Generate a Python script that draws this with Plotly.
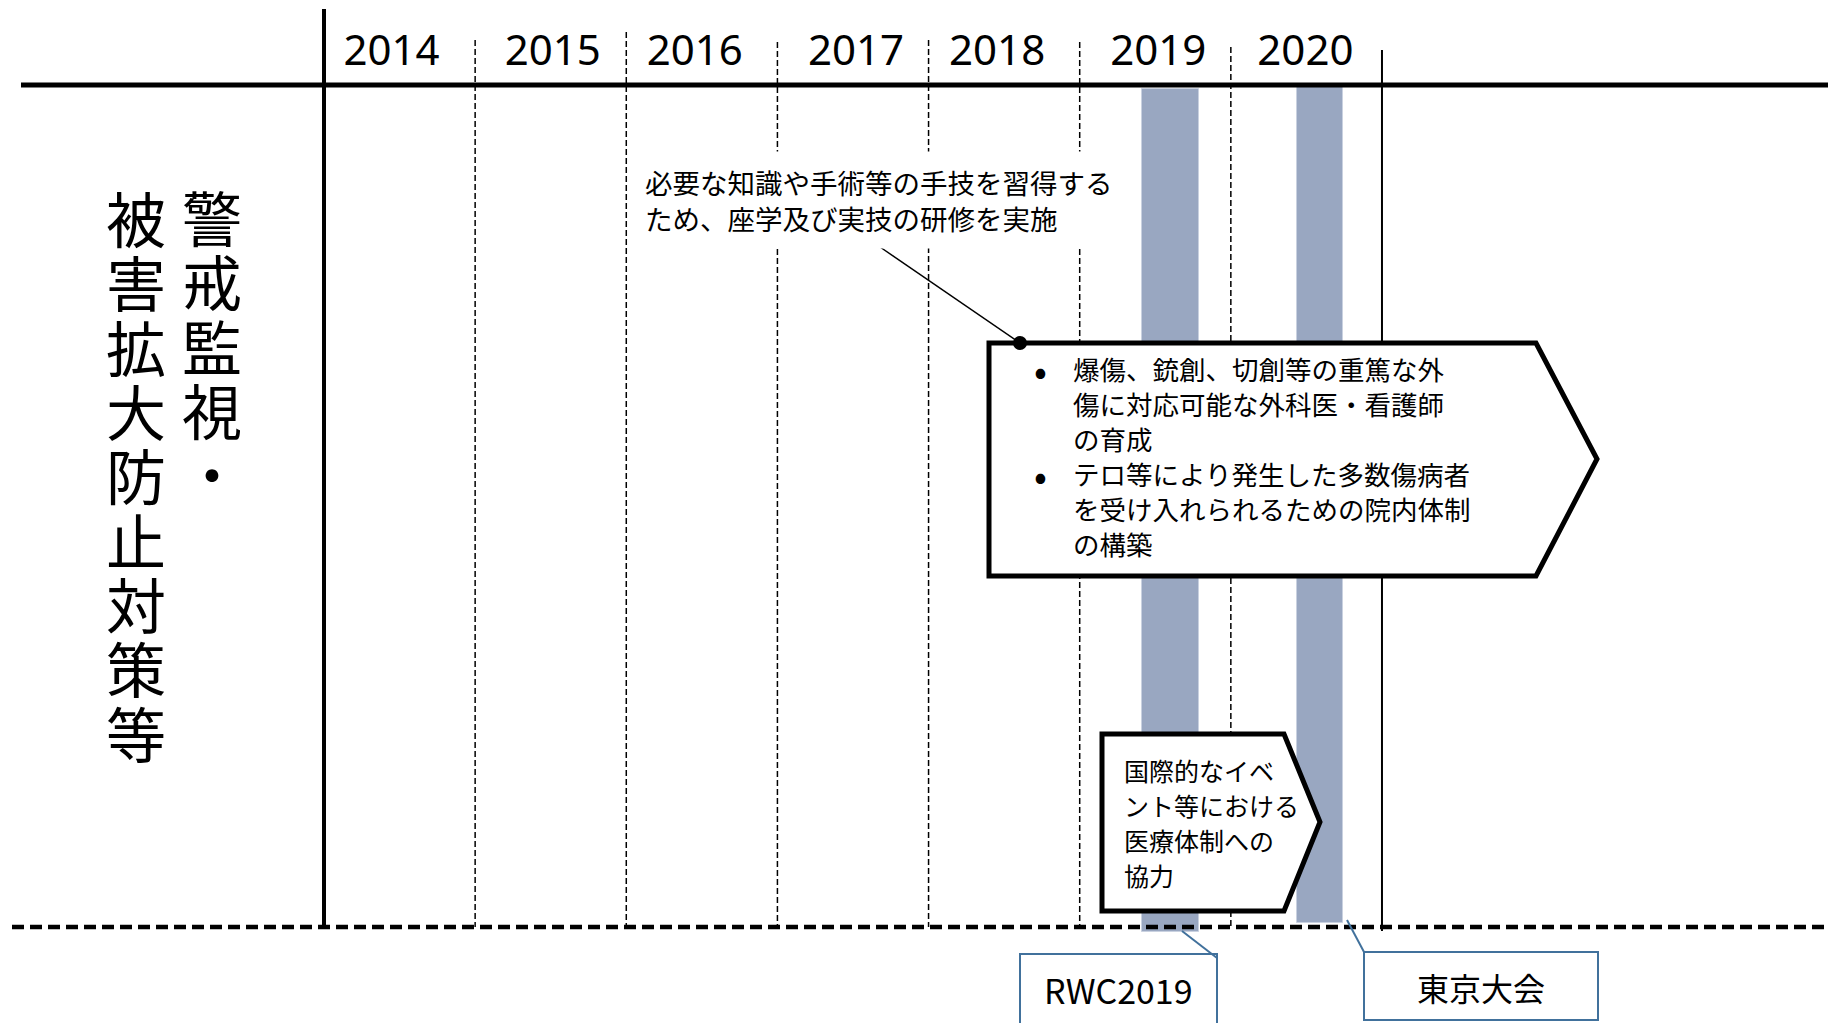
import plotly.graph_objects as go

# ---------------- data ----------------
years = [2014, 2015, 2016, 2017, 2018, 2019, 2020]
year_labels = ["2014", "2015", "2016", "2017", "2018", "2019", "2020"]
events = ["RWC2019", "東京大会"]
event_start = [2019.41, 2020.44]
event_end = [2019.79, 2020.74]
title_right = "警戒監視・"
title_left = "被害拡大防止対策等"
note_lines = ["必要な知識や手術等の手技を習得する", "ため、座学及び実技の研修を実施"]
bullet_items = [
    ["爆傷、銃創、切創等の重篤な外", "傷に対応可能な外科医・看護師", "の育成"],
    ["テロ等により発生した多数傷病者", "を受け入れられるための院内体制", "の構築"],
]
event_box_lines = ["国際的なイベ", "ント等における", "医療体制への", "協力"]

# ---------------- layout helpers ----------------
W, H = 1836, 1023
OFF = 8                # page body margin
PX_PER_YEAR = 151.14
X0_PX = 324.0          # pixel position of the first year boundary
H_FIG = H - OFF


def yr(px):
    """reference pixel -> year-axis units"""
    return years[0] + (px - X0_PX) / PX_PER_YEAR


JP = "Noto Sans CJK JP, Noto Sans, sans-serif"
NUM = "Noto Sans, Open Sans, sans-serif"
BLUE = "#41719C"
BAR = "#99A7C1"


def sized(lines, size):
    return "<br>".join(f"<span style='font-size:{size}px'>{ln}</span>" for ln in lines)


fig = go.Figure()

# event period bars
bar_top = [89, 87]
bar_bot = [932, 923]
fig.add_trace(go.Bar(
    x=[(s + e) / 2 for s, e in zip(event_start, event_end)],
    width=[e - s for s, e in zip(event_start, event_end)],
    base=bar_top,
    y=[b - t for t, b in zip(bar_top, bar_bot)],
    marker=dict(color=BAR, line=dict(color="#C9D1E0", width=1)),
    hoverinfo="skip",
))

# year labels
label_nudge = [-8, 2, -7, 3, -7, 3, -1]
fig.add_trace(go.Scatter(
    x=[y + 0.5 + n / PX_PER_YEAR for y, n in zip(years, label_nudge)], y=[54] * len(years),
    mode="text", text=year_labels,
    textfont=dict(family=NUM, size=42, color="black"),
    hoverinfo="skip",
))

shapes = []
# dashed year boundaries
dash_tops = [40, 32, 42, 40, 42, 47]
for y, top in zip(years[1:], dash_tops):
    shapes.append(dict(type="line", xref="x", yref="y", x0=y, x1=y, y0=top, y1=927,
                       line=dict(color="black", width=1.5, dash="6px,3px")))
# thick first boundary
shapes.append(dict(type="line", xref="x", yref="y", x0=years[0], x1=years[0], y0=9, y1=927,
                   line=dict(color="black", width=4)))
# thin final boundary
shapes.append(dict(type="line", xref="x", yref="y", x0=years[-1] + 1, x1=years[-1] + 1, y0=50, y1=931,
                   line=dict(color="black", width=2)))
# top thick header line
shapes.append(dict(type="line", xref="x", yref="y", x0=yr(21), x1=yr(W + 5), y0=85, y1=85,
                   line=dict(color="black", width=5)))
# bottom dashed line
shapes.append(dict(type="line", xref="x", yref="y", x0=yr(12), x1=yr(W + 5), y0=927, y1=927,
                   line=dict(color="black", width=4.5, dash="12px,6px")))


def pent(l, t, s, tip, ty, b):
    return (f"M {yr(l)},{t} L {yr(s)},{t} L {yr(tip)},{ty} L {yr(s)},{b} "
            f"L {yr(l)},{b} Z")


# big arrow box
shapes.append(dict(type="path", xref="x", yref="y", path=pent(989, 343, 1536, 1597, 459, 576),
                   fillcolor="white", line=dict(color="black", width=5)))
# small arrow box
shapes.append(dict(type="path", xref="x", yref="y", path=pent(1102, 734, 1284, 1320, 822, 911),
                   fillcolor="white", line=dict(color="black", width=5)))
# callout connector and dot
shapes.append(dict(type="line", xref="x", yref="y", x0=yr(880), x1=yr(1020), y0=247, y1=343,
                   line=dict(color="black", width=1.5)))
shapes.append(dict(type="circle", xref="x", yref="y", x0=yr(1013), x1=yr(1027), y0=336, y1=350,
                   fillcolor="black", line=dict(color="black", width=0)))
# event label boxes + connectors
label_boxes = [(1020, 954, 1217, 1040), (1364, 952, 1598, 1020)]
connectors = [(1182, 931, 1217, 958), (1347, 920, 1364, 952)]
for (l, t, r, b), (ax, ay, bx, by) in zip(label_boxes, connectors):
    shapes.append(dict(type="rect", xref="x", yref="y", x0=yr(l), x1=yr(r), y0=t, y1=b,
                       fillcolor="white", line=dict(color=BLUE, width=2)))
    shapes.append(dict(type="line", xref="x", yref="y", x0=yr(ax), x1=yr(bx), y0=ay, y1=by,
                       line=dict(color=BLUE, width=2)))

annotations = []
# vertical row titles (right column read first); one text block per column
annotations.append(dict(x=yr(212), y=215 + 2 * 64.3, xref="x", yref="y",
                        text=sized(list(title_right), 60), showarrow=False,
                        font=dict(family=JP, size=49.5, color="black"),
                        xanchor="center", yanchor="middle"))
annotations.append(dict(x=yr(136), y=217 + 4 * 64.3, xref="x", yref="y",
                        text=sized(list(title_left), 60), showarrow=False,
                        font=dict(family=JP, size=49.5, color="black"),
                        xanchor="center", yanchor="middle"))

# top note with white background
annotations.append(dict(x=yr(634), y=151, xref="x", yref="y", text="<br>".join(note_lines),
                        showarrow=False, align="left", xanchor="left", yanchor="top",
                        bgcolor="white", borderpad=10,
                        font=dict(family=JP, size=27.5, color="black")))

# bullets inside big box
line_h = 35.1
y_first = 368
row = 0
for item in bullet_items:
    annotations.append(dict(x=yr(1040), y=y_first + row * line_h, xref="x", yref="y", text="•",
                            showarrow=False, xanchor="center", yanchor="middle",
                            font=dict(family=JP, size=38, color="black")))
    annotations.append(dict(x=yr(1071), y=y_first + (row + (len(item) - 1) / 2) * line_h,
                            xref="x", yref="y", text=sized(item, 26.5), align="left",
                            showarrow=False, xanchor="left", yanchor="middle",
                            font=dict(family=JP, size=27, color="black")))
    row += len(item)

# small box text
annotations.append(dict(x=yr(1122), y=770 + 1.5 * 35.3, xref="x", yref="y",
                        text=sized(event_box_lines, 25), align="left",
                        showarrow=False, xanchor="left", yanchor="middle",
                        font=dict(family=JP, size=27, color="black")))

# event labels
label_centers = [(1118, 989), (1481, 987)]
label_sizes = [34, 32]
for name, (cx, cy), fs in zip(events, label_centers, label_sizes):
    annotations.append(dict(x=yr(cx), y=cy, xref="x", yref="y", text=name, showarrow=False,
                            xanchor="center", yanchor="middle",
                            font=dict(family=JP, size=fs, color="black")))

fig.update_layout(
    width=W - OFF, height=H_FIG, margin=dict(l=0, r=0, t=0, b=0),
    paper_bgcolor="white", plot_bgcolor="white", showlegend=False,
    xaxis=dict(range=[yr(OFF), yr(W)], visible=False, fixedrange=True),
    yaxis=dict(range=[OFF + H_FIG, OFF], visible=False, fixedrange=True),
    shapes=shapes, annotations=annotations, bargap=0,
)

fig.write_html("out.html")
